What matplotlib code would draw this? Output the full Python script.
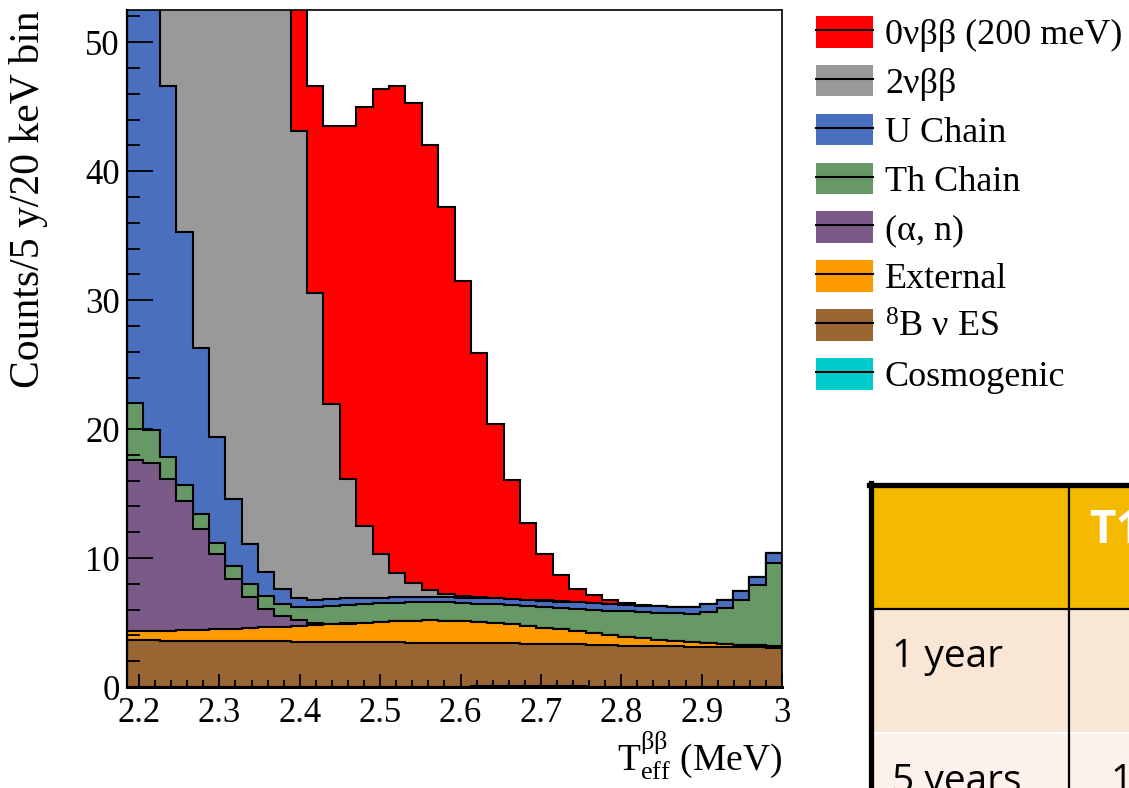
import numpy as np
import matplotlib.pyplot as plt
from matplotlib.patches import Patch, Rectangle
from matplotlib.lines import Line2D
from matplotlib.legend_handler import HandlerTuple
from matplotlib.ticker import MultipleLocator, FuncFormatter

plt.rcParams['font.family'] = ['Liberation Serif', 'DejaVu Serif']
plt.rcParams['mathtext.fontset'] = 'custom'
plt.rcParams['mathtext.rm'] = 'Liberation Serif'
plt.rcParams['mathtext.it'] = 'Liberation Serif:italic'

# binning: 40 bins of ~20 keV
e_lo, e_hi, n_bins = 2.185, 3.0, 40

# counts per bin, one array per component (bottom of the stack first)
cosmogenic = [0, 0, 0, 0, 0, 0, 0, 0, 0, 0, 0, 0, 0, 0, 0, 0, 0, 0, 0, 0,
              0, 0.04, 0.04, 0.04, 0.04, 0.04, 0.04, 0.04, 0, 0, 0, 0, 0, 0, 0, 0, 0, 0, 0, 0]
b8_es = [3.62, 3.61, 3.60, 3.59, 3.58, 3.57, 3.56, 3.55, 3.54, 3.53,
         3.52, 3.51, 3.50, 3.49, 3.48, 3.47, 3.46, 3.45, 3.44, 3.42,
         3.41, 3.39, 3.37, 3.35, 3.33, 3.31, 3.29, 3.27, 3.25, 3.23,
         3.21, 3.19, 3.17, 3.15, 3.13, 3.11, 3.10, 3.08, 3.07, 3.05]
external = [0.72, 0.75, 0.78, 0.82, 0.86, 0.91, 0.96, 1.02, 1.08, 1.15,
            1.22, 1.29, 1.36, 1.43, 1.50, 1.56, 1.62, 1.68, 1.72, 1.73,
            1.71, 1.61, 1.55, 1.47, 1.34, 1.23, 1.14, 1.01, 0.94, 0.78,
            0.67, 0.59, 0.50, 0.42, 0.34, 0.28, 0.23, 0.20, 0.19, 0.13]
alpha_n = [13.23, 13.01, 11.77, 10.01, 7.84, 5.81, 3.88, 2.41, 1.46, 0.80,
           0.43, 0.16, 0.06, 0.02, 0, 0, 0, 0, 0, 0,
           0, 0, 0, 0, 0, 0, 0, 0, 0, 0,
           0, 0, 0, 0, 0, 0, 0, 0, 0, 0]
th_chain = [4.43, 2.58, 1.68, 1.22, 1.11, 0.90, 0.98, 0.98, 0.95, 0.93,
            1.03, 1.24, 1.36, 1.41, 1.44, 1.45, 1.45, 1.44, 1.43, 1.42,
            1.40, 1.42, 1.44, 1.47, 1.55, 1.62, 1.66, 1.74, 1.80, 1.91,
            1.98, 2.02, 2.08, 2.14, 2.22, 2.42, 2.82, 3.44, 4.68, 6.43]
u_chain = [60.0, 42.0, 28.8, 19.66, 12.9, 8.2, 5.17, 3.1, 1.87, 1.16,
           0.73, 0.52, 0.55, 0.55, 0.50, 0.45, 0.43, 0.42, 0.42, 0.42,
           0.42, 0.45, 0.47, 0.48, 0.50, 0.50, 0.50, 0.50, 0.50, 0.50,
           0.50, 0.50, 0.50, 0.50, 0.52, 0.60, 0.62, 0.72, 0.59, 0.78]
two_nbb = [520, 410, 330, 260, 210, 170, 135, 105, 79, 54,
           36.2, 23.8, 15.1, 9.25, 5.58, 3.37, 1.91, 1.07, 0.49, 0.25,
           0.12, 0.07, 0.05, 0.03, 0.02, 0.01, 0.01, 0.01, 0.01, 0.01,
           0, 0, 0, 0, 0, 0, 0, 0, 0, 0]
zero_nbb = [0.01, 0.02, 0.05, 0.1, 0.3, 0.6, 1.3, 2.5, 4.5, 7.5,
            11.5, 16.1, 21.6, 27.35, 32.5, 36.1, 37.7, 37.2, 34.5, 30.0,
            24.4, 18.9, 13.5, 9.2, 5.9, 3.58, 2.02, 1.06, 0.6, 0.29,
            0.13, 0.06, 0.03, 0.01, 0.01, 0, 0, 0, 0, 0]

components = [
    (r'Cosmogenic', cosmogenic, '#00cccc'),
    (r'$^{8}$B ν ES', b8_es, '#996633'),
    (r'External', external, '#ff9900'),
    (r'(α, n)', alpha_n, '#7a5b88'),
    (r'Th Chain', th_chain, '#669966'),
    (r'U Chain', u_chain, '#4a6fbe'),
    (r'2νββ', two_nbb, '#999999'),
    (r'0νββ (200 meV)', zero_nbb, '#ff0000'),
]

W, H = 1129, 788
fig = plt.figure(figsize=(W / 100, H / 100), dpi=100)


def fx(x):
    return x / W


def fy(y):
    return 1 - y / H


ax = fig.add_axes([fx(127), fy(687), 655 / W, 677 / H])

edges = np.linspace(e_lo, e_hi, n_bins + 1)
cum = np.cumsum(np.array([c[1] for c in components], dtype=float), axis=0)

# draw the cumulative histograms from the top of the stack down
for i in reversed(range(len(components))):
    ax.stairs(cum[i], edges, baseline=0, fill=True,
              facecolor=components[i][2], edgecolor='black', linewidth=1.5)

ax.set_xlim(e_lo, e_hi)
ax.set_ylim(0, 52.5)

ax.xaxis.set_major_locator(MultipleLocator(0.1))
ax.xaxis.set_minor_locator(MultipleLocator(0.02))
ax.yaxis.set_major_locator(MultipleLocator(10))
ax.yaxis.set_minor_locator(MultipleLocator(2))
ax.xaxis.set_major_formatter(FuncFormatter(lambda v, p: f'{round(v, 1):g}'))

ax.tick_params(axis='both', which='both', direction='in', top=False, right=False,
               labelsize=25, width=1.3)
ax.tick_params(axis='y', which='major', length=18.5, pad=5)
ax.tick_params(axis='y', which='minor', length=9.3)
ax.tick_params(axis='x', which='major', length=9.3, pad=7)
ax.tick_params(axis='x', which='minor', length=4.7)

ax.spines['left'].set_linewidth(1.6)
ax.spines['bottom'].set_linewidth(2.2)
ax.spines['top'].set_linewidth(1.2)
ax.spines['right'].set_linewidth(1.2)

ax.set_ylabel('Counts/5 y/20 keV bin', fontsize=30, loc='top')
ax.yaxis.set_label_coords(-0.121, 1.0)
ax.set_xlabel(r'$\mathrm{T}_{\mathrm{eff}}^{\mathrm{ββ}}$ (MeV)', fontsize=27, loc='right')
ax.xaxis.set_label_coords(1.0, -0.062)

# legend: filled box with a black line through it
handles = []
labels = []
for name, vals, col in reversed(components):
    handles.append((Patch(facecolor=col, edgecolor='none'),
                    Line2D([0], [0], color='black', lw=1.5)))
    labels.append(name)
fig.legend(handles, labels, handler_map={tuple: HandlerTuple(ndivide=1)},
           loc='upper left', bbox_to_anchor=(fx(816), fy(16)), frameon=False,
           fontsize=26, handlelength=1.58, handleheight=0.97, handletextpad=0.33,
           labelspacing=0.35, borderpad=0, borderaxespad=0)

# results table in the lower right corner
row_labels = ['1 year', '5 years']
header_text = 'T1/2'
row2_value = '1'

fig.add_artist(Rectangle((fx(872), fy(609)), (W - 872) / W, 122 / H,
                         transform=fig.transFigure, facecolor='#f3ba00', edgecolor='none'))
fig.add_artist(Rectangle((fx(872), fy(732)), (W - 872) / W, 123 / H,
                         transform=fig.transFigure, facecolor='#fae6d5', edgecolor='none'))
fig.add_artist(Rectangle((fx(872), fy(800)), (W - 872) / W, 66 / H,
                         transform=fig.transFigure, facecolor='#fcf1eb', edgecolor='none'))
fig.add_artist(Line2D([fx(869), 1], [fy(485), fy(485)], transform=fig.transFigure,
                      color='black', lw=3.8))
fig.add_artist(Line2D([fx(871), fx(871)], [fy(483), 0], transform=fig.transFigure,
                      color='black', lw=3.8))
fig.add_artist(Line2D([fx(871), 1], [fy(609), fy(609)], transform=fig.transFigure,
                      color='black', lw=1.6))
fig.add_artist(Line2D([fx(1069), fx(1069)], [fy(485), 0], transform=fig.transFigure,
                      color='black', lw=1.6))

tfont = ['Open Sans', 'DejaVu Sans']
fig.text(fx(1089), fy(543), header_text, family=tfont, fontsize=33,
         fontweight='bold', color='white', va='baseline')
fig.text(fx(892), fy(667), row_labels[0], family=tfont, fontsize=28, va='baseline')
fig.text(fx(892), fy(792), row_labels[1], family=tfont, fontsize=28, va='baseline')
fig.text(fx(1110), fy(792), row2_value, family=tfont, fontsize=28, va='baseline')

fig.savefig('out.png', dpi=100)
